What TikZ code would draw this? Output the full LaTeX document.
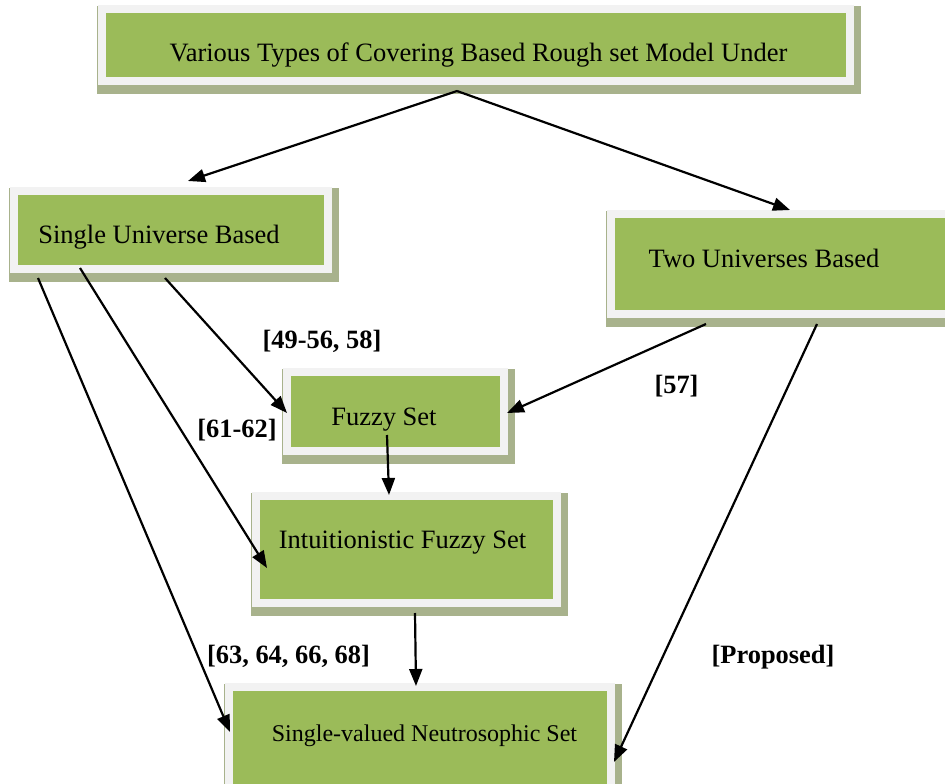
\documentclass[tikz,border=0pt]{standalone}
\usepackage{fontspec}
\setmainfont{Liberation Serif}
\usetikzlibrary{arrows.meta,calc,backgrounds}
\definecolor{boxgreen}{HTML}{9BBB59}
\definecolor{boxframe}{HTML}{F2F2F2}
\definecolor{boxshadow}{RGB}{168,178,140}
\newcommand{\boxtext}[3]{\hspace*{#1pt}\raisebox{#2pt}[0pt][0pt]{#3}\hspace*{-#1pt}}
\tikzset{
  boxnode/.style={draw=boxframe, line width=8pt, fill=boxgreen, inner sep=0pt,
    font=\fontsize{26.5}{30}\selectfont},
  reflabel/.style={font=\bfseries\fontsize{26.4}{30}\selectfont, anchor=base, inner sep=0pt},
  conn/.style={line width=2.2pt, -{Triangle[length=17pt,width=13pt]}},
}
\begin{document}
\begin{tikzpicture}[x=1pt,y=1pt]
\useasboundingbox (0,0) rectangle (945,-784);

% boxes
\node[boxnode, minimum width=748pt, minimum height=72pt] (top) at (476,-45)
  {\boxtext{2.5}{-17}{Various Types of Covering Based Rough set Model Under}};
\node[boxnode, minimum width=314pt, minimum height=78pt] (single) at (171,-230)
  {\boxtext{-12}{-13}{Single Universe Based}};
\node[boxnode, minimum width=342pt, minimum height=100pt] (two) at (782,-264)
  {\boxtext{-18}{-3}{Two Universes Based}};
\node[boxnode, minimum width=217pt, minimum height=79pt] (fuzzy) at (395.5,-411.5)
  {\boxtext{-11.5}{-13.5}{Fuzzy Set}};
\node[boxnode, minimum width=301pt, minimum height=107pt] (intu) at (406.5,-549.5)
  {\boxtext{-4}{1.5}{Intuitionistic Fuzzy Set}};
\node[boxnode, minimum width=382pt, minimum height=105pt, font=\fontsize{24}{28}\selectfont] (neutro) at (420,-739.5)
  {\boxtext{4.5}{-1.5}{Single-valued Neutrosophic Set}};

% shadows and page
\begin{scope}[on background layer]
  \fill[white] (0,0) rectangle (945,-784);
  \foreach \n in {top,single,two,fuzzy,intu,neutro}
    \fill[boxshadow] ($(\n.south west)+(-1,-9)$) rectangle ($(\n.north east)+(7,-1)$);
\end{scope}

% connector end points
\coordinate (a1s) at (457,-91);   \coordinate (a1e) at (188,-181);
\coordinate (a2s) at (457,-91);   \coordinate (a2e) at (790,-210);
\coordinate (a3s) at (165,-278);  \coordinate (a3e) at (287,-413);
\coordinate (a4s) at (80,-268);   \coordinate (a4e) at (267,-568);
\coordinate (a5s) at (38,-278);   \coordinate (a5e) at (230,-732);
\coordinate (a6s) at (706,-324);  \coordinate (a6e) at (507,-413);
\coordinate (a7s) at (817,-324);  \coordinate (a7e) at (614,-762);
\coordinate (a8s) at (387,-435);  \coordinate (a8e) at (389,-495);
\coordinate (a9s) at (415,-613);  \coordinate (a9e) at (416,-686);

\draw[conn] (a1s) -- (a1e);
\draw[conn] (a2s) -- (a2e);
\draw[conn] (a3s) -- (a3e);
\draw[conn] (a4s) -- (a4e);
\draw[conn] (a5s) -- (a5e);
\draw[conn] (a6s) -- (a6e);
\draw[conn] (a7s) -- (a7e);
\draw[conn] (a8s) -- (a8e);
\draw[conn] (a9s) -- (a9e);

% reference labels
\node[reflabel] (l1) at (322,-348) {[49-56, 58]};
\node[reflabel] (l2) at (237,-437) {[61-62]};
\node[reflabel] (l3) at (676.5,-393) {[57]};
\node[reflabel] (l4) at (288.5,-663) {[63, 64, 66, 68]};
\node[reflabel] (l5) at (773,-663) {[Proposed]};
\end{tikzpicture}
\end{document}
